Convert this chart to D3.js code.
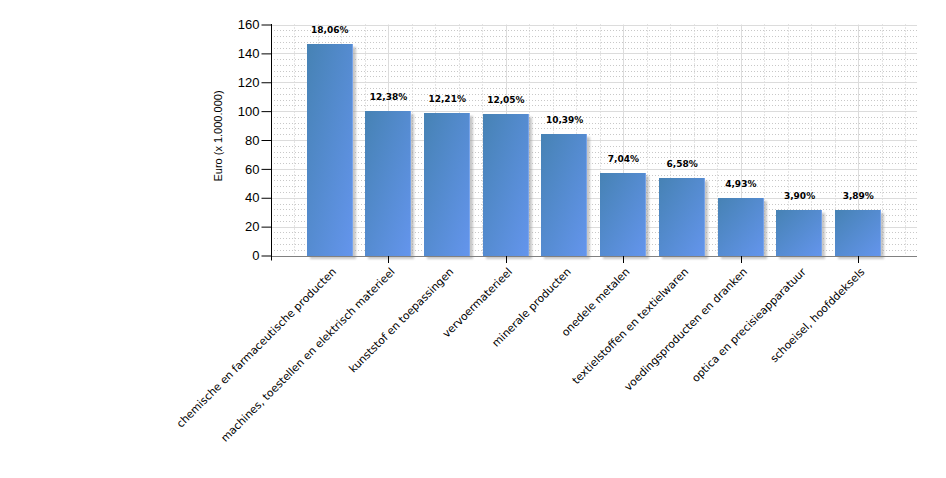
<!DOCTYPE html>
<html>
<head>
<meta charset="utf-8">
<script src="https://cdn.jsdelivr.net/npm/d3@7"></script>
<style>
  html, body { margin: 0; padding: 0; background: #fff; }
  svg { display: block; }
</style>
</head>
<body>
<svg id="chart" width="946" height="478"></svg>
<script>
const categories = [
  "chemische en farmaceutische producten",
  "machines, toestellen en elektrisch materieel",
  "kunststof en toepassingen",
  "vervoermaterieel",
  "minerale producten",
  "onedele metalen",
  "textielstoffen en textielwaren",
  "voedingsproducten en dranken",
  "optica en precisieapparatuur",
  "schoeisel, hoofddeksels"
];
const values = [146.5, 100.4, 99.0, 97.7, 84.3, 57.1, 53.4, 40.0, 31.6, 31.5];
const percentLabels = ["18,06%", "12,38%", "12,21%", "12,05%", "10,39%", "7,04%", "6,58%", "4,93%", "3,90%", "3,89%"];
const yTicks = [0, 20, 40, 60, 80, 100, 120, 140, 160];
const yTitle = "Euro (x 1.000.000)";

const svg = d3.select("#chart");
const pLeft = 271, pRight = 917, pTop = 24.5, pBottom = 255.5;

const x = d3.scaleLinear().domain([0, categories.length + 1]).range([pLeft, pRight]);
const y = d3.scaleLinear().domain([0, 160]).range([pBottom, pTop]);
const unit = x(1) - x(0);
const barW = unit * 0.79;

const defs = svg.append("defs");
const grad = defs.append("linearGradient").attr("id", "barGrad")
  .attr("x1", "0").attr("y1", "0").attr("x2", "1").attr("y2", "1");
grad.append("stop").attr("offset", "0%").attr("stop-color", "#4682B4");
grad.append("stop").attr("offset", "100%").attr("stop-color", "#6495ED");
const blur = defs.append("filter").attr("id", "shadowBlur")
  .attr("x", "-20%").attr("y", "-20%").attr("width", "140%").attr("height", "140%");
blur.append("feGaussianBlur").attr("stdDeviation", 1);

const grid = svg.append("g");
// minor horizontal dotted
d3.range(0, 161, 4).filter(v => v % 20 !== 0).forEach(v => {
  grid.append("line")
    .attr("x1", pLeft).attr("x2", pRight)
    .attr("y1", Math.round(y(v)) + 0.5).attr("y2", Math.round(y(v)) + 0.5)
    .attr("stroke", "#c8c8c8").attr("stroke-dasharray", "1,2");
});
// minor vertical dotted
d3.range(0, 56).map(k => k * 0.2).forEach(r => {
  if (Math.abs(r / 0.4 - Math.round(r / 0.4)) > 1e-6) return;
  if (Math.abs(r / 2 - Math.round(r / 2)) < 1e-6) return;
  if (r > categories.length + 1 - 1e-6) return;
  grid.append("line")
    .attr("x1", Math.round(x(r)) + 0.5).attr("x2", Math.round(x(r)) + 0.5)
    .attr("y1", pTop).attr("y2", pBottom)
    .attr("stroke", "#c8c8c8").attr("stroke-dasharray", "1,2");
});
// major horizontal
yTicks.filter(v => v > 0).forEach(v => {
  grid.append("line")
    .attr("x1", pLeft).attr("x2", pRight)
    .attr("y1", Math.round(y(v)) + 0.5).attr("y2", Math.round(y(v)) + 0.5)
    .attr("stroke", "#dcdcdc");
});
// major vertical
d3.range(2, categories.length + 1, 2).forEach(v => {
  grid.append("line")
    .attr("x1", Math.round(x(v)) + 0.5).attr("x2", Math.round(x(v)) + 0.5)
    .attr("y1", pTop).attr("y2", pBottom)
    .attr("stroke", "#dcdcdc");
});

// bars
const bars = svg.append("g");
categories.forEach((c, i) => {
  const cx = x(i + 1);
  const x0 = Math.round(cx - barW / 2);
  const w = Math.round(barW);
  const yt = Math.round(y(values[i]));
  const h = Math.round(y(0)) - yt;
  bars.append("rect")
    .attr("x", x0 + 3).attr("y", yt + 3).attr("width", w).attr("height", h)
    .attr("fill", "#9a9a9a").attr("opacity", 0.55).attr("filter", "url(#shadowBlur)");
  bars.append("rect")
    .attr("x", x0).attr("y", yt).attr("width", w).attr("height", h)
    .attr("fill", "url(#barGrad)");
  bars.append("rect")
    .attr("x", x0 + w - 1).attr("y", yt).attr("width", 1).attr("height", h)
    .attr("fill", "#7fa9ee").attr("opacity", 0.8);
  bars.append("text")
    .attr("x", cx).attr("y", yt - 11)
    .attr("text-anchor", "middle")
    .attr("font-family", "DejaVu Sans, Verdana, sans-serif")
    .attr("font-weight", "bold").attr("font-size", "9px")
    .attr("fill", "#000")
    .text(percentLabels[i]);
});

// x axis line
svg.append("line")
  .attr("x1", pLeft).attr("x2", pRight)
  .attr("y1", Math.round(y(0)) + 0.5).attr("y2", Math.round(y(0)) + 0.5)
  .attr("stroke", "#808080");
// x ticks
d3.range(2, categories.length + 1, 2).forEach(v => {
  svg.append("line")
    .attr("x1", Math.round(x(v)) + 0.5).attr("x2", Math.round(x(v)) + 0.5)
    .attr("y1", Math.round(y(0))).attr("y2", Math.round(y(0)) + 7)
    .attr("stroke", "#000");
});
// y axis
const yAxis = d3.axisLeft(y).tickValues(yTicks).tickSize(10).tickPadding(2).tickSizeOuter(0);
const gy = svg.append("g").attr("transform", `translate(${pLeft + 0.5},0)`).call(yAxis);
gy.select(".domain").remove();
gy.selectAll(".tick line").attr("stroke", "#000");
gy.selectAll(".tick text")
  .attr("font-family", "Liberation Sans, Arial, sans-serif")
  .attr("font-size", "13px").attr("fill", "#000");
svg.append("line")
  .attr("x1", pLeft + 0.5).attr("x2", pLeft + 0.5)
  .attr("y1", pTop - 0.5).attr("y2", pBottom + 5)
  .attr("stroke", "#000");

// y title
svg.append("text")
  .attr("transform", `translate(222,136) rotate(-90)`)
  .attr("text-anchor", "middle")
  .attr("font-family", "Liberation Sans, Arial, sans-serif")
  .attr("font-size", "11px").attr("fill", "#000")
  .text(yTitle);

// category labels
categories.forEach((c, i) => {
  const cx = x(i + 1);
  svg.append("text")
    .attr("transform", `translate(${cx + 7},${y(0) + 17}) rotate(-45)`)
    .attr("text-anchor", "end")
    .attr("font-family", "DejaVu Sans, Tahoma, sans-serif")
    .attr("font-size", "10.8px").attr("fill", "#000")
    .text(c);
});
</script>
</body>
</html>
